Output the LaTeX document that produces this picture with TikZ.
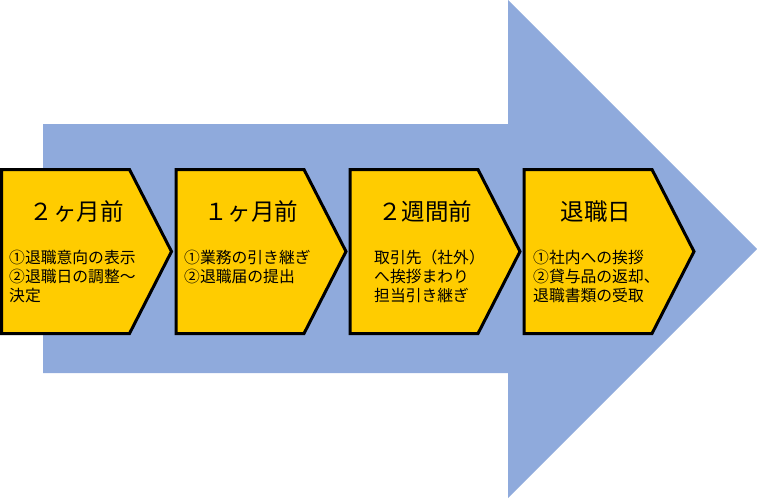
\documentclass[tikz,border=0pt]{standalone}
\usepackage{fontspec}
\setmainfont{Noto Sans CJK JP}
\definecolor{arrowblue}{HTML}{8FAADC}
\definecolor{stepyellow}{HTML}{FFCC00}
\begin{document}
\begin{tikzpicture}[x=1pt,y=-1pt,
  chev/.style={fill=stepyellow,draw=black,line width=3pt,line join=miter},
  ttl/.style={font=\fontsize{23.5}{27}\selectfont,inner sep=0pt,anchor=center},
  body/.style={font=\fontsize{15.8}{19}\selectfont,align=left,anchor=north west,inner sep=0pt}]
\useasboundingbox (0,0) rectangle (757,498);
% big arrow
\fill[arrowblue] (43,124) -- (508,124) -- (508,0) -- (757,249) -- (508,498) -- (508,373) -- (43,373) -- cycle;
% chevrons
\foreach \l/\n in {1.5/a,176/b,350/c,524/d}{
  \coordinate (\n) at (\l,169.5);
  \draw[chev] (\n) -- ++(128,0) -- ++(42,82) -- ++(-42,82) -- ++(-128,0) -- cycle;
}
\node[ttl] (ta) at ([xshift=75pt]a|-0,212) {２ヶ月前};
\node[ttl] (tb) at ([xshift=75pt]b|-0,212) {１ヶ月前};
\node[ttl] (tc) at ([xshift=75pt]c|-0,212) {２週間前};
\node[ttl] (td) at ([xshift=72pt]d|-0,212) {退職日};
\node[body] (ba) at (9,250) {①退職意向の表示\\②退職日の調整～\\決定};
\node[body] (bb) at (184,250) {①業務の引き継ぎ\\②退職届の提出};
\node[body] (bc) at (374,250) {取引先（社外）\\へ挨拶まわり\\担当引き継ぎ};
\node[body] (bd) at (533,250) {①社内への挨拶\\②貸与品の返却、\\退職書類の受取};
\end{tikzpicture}
\end{document}
